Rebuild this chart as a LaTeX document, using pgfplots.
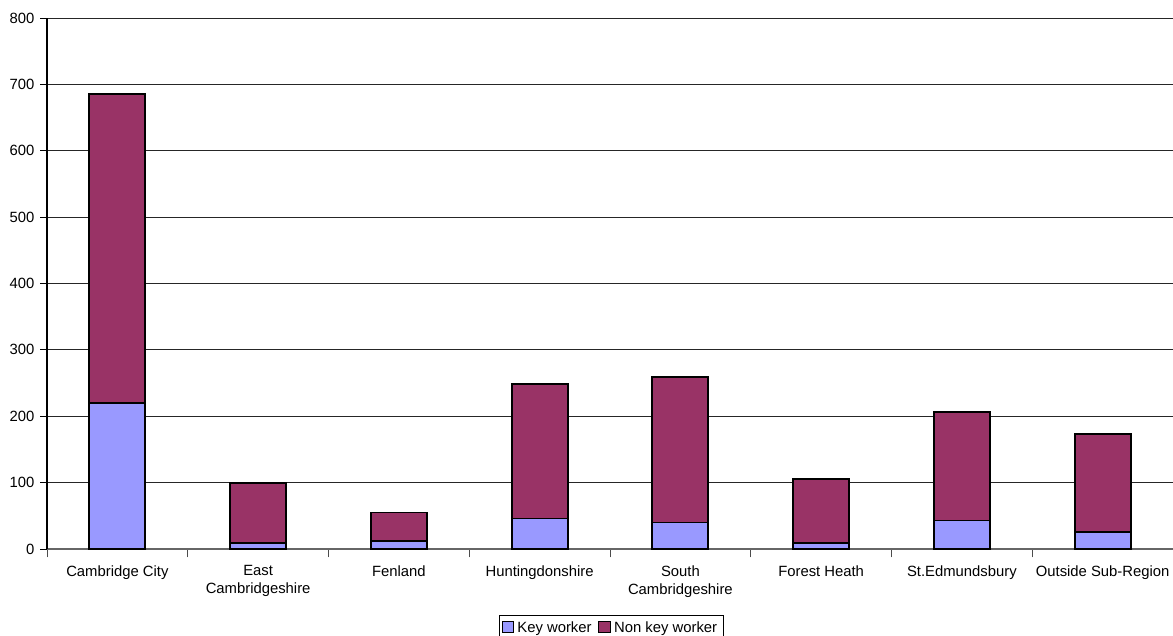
\documentclass[border=0pt]{standalone}
\usepackage{pgfplots}
\pgfplotsset{compat=1.18}
\usepackage{fontspec}
\setmainfont{Liberation Sans}

\definecolor{keyc}{HTML}{9999FF}
\definecolor{nonkeyc}{HTML}{993366}

\begin{document}
\begin{tikzpicture}[x=1pt,y=1pt]
\path[use as bounding box] (0,0) rectangle (703.8,381);
\begin{axis}[
  at={(28.2pt,51.6pt)}, anchor=south west,
  scale only axis, width=675.6pt, height=318.6pt,
  ybar stacked, bar width=33.6pt,
  xmin=-0.5, xmax=7.5, ymin=0, ymax=800,
  ytick={0,100,...,800},
  xtick={0,...,7},
  xticklabels={Cambridge City, East\\Cambridgeshire, Fenland, Huntingdonshire, South\\Cambridgeshire, Forest Heath, St.Edmundsbury, Outside Sub-Region},
  xticklabel style={align=center, text depth=0pt},
  x tick label style={yshift=-2.5pt},
  major x tick style={draw=none},
  minor xtick={-0.5,0.5,...,6.5},
  minor x tick style={black!70, line width=0.6pt},
  minor tick length=5pt,
  major y tick style={black, line width=0.6pt},
  major tick length=4pt,
  tick align=outside,
  axis x line*=bottom, axis y line*=left,
  x axis line style={black!60, line width=0.8pt, -},
  y axis line style={black, line width=0.8pt, -},
  ymajorgrids, grid style={black!85, line width=0.5pt},
  font=\fontsize{8.9pt}{10.8pt}\selectfont,
  /pgf/number format/assume math mode=true,
  legend style={at={(0.5009,-0.1243)}, anchor=north, legend columns=-1,
    draw=black, line width=0.5pt, inner sep=1.5pt,
    font=\fontsize{8.9pt}{10.8pt}\selectfont,
    /tikz/every even column/.append style={column sep=2pt}},
  legend image code/.code={\draw[#1, draw=black, line width=0.5pt] (0pt,-3pt) rectangle (7pt,4pt);},
  clip=false,
]
\addplot[fill=keyc, draw=black, line width=1.1pt] coordinates
  {(0,220) (1,9) (2,12) (3,46) (4,40) (5,9) (6,43) (7,25)};
\addplot[fill=nonkeyc, draw=black, line width=1.1pt] coordinates
  {(0,466) (1,91) (2,43) (3,203) (4,219) (5,96) (6,164) (7,148)};
\legend{Key worker, Non key worker}
\end{axis}
\end{tikzpicture}
\end{document}
